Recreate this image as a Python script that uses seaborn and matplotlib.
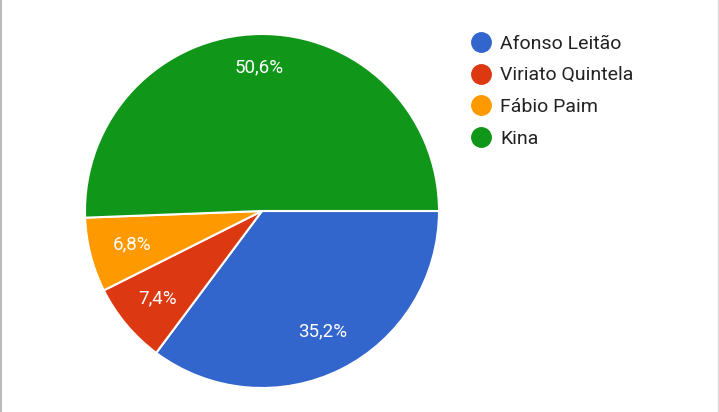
import numpy as np
import seaborn as sns
import matplotlib.pyplot as plt
from matplotlib.lines import Line2D

names = ['Afonso Leitão', 'Viriato Quintela', 'Fábio Paim', 'Kina']
shares = [35.2, 7.4, 6.8, 50.6]

colors = sns.color_palette(['#3366cc', '#dc3912', '#ff9900', '#109618'])
label_dist = [0.76, 0.77, 0.76, 0.81]

sns.set_theme(style='white')
plt.rcParams['font.family'] = ['Roboto', 'DejaVu Sans']

fig = plt.figure(figsize=(7.19, 4.12), dpi=100)
ax = fig.add_axes([85 / 719, 24 / 412, 354 / 719, 354 / 412])

wedges, texts, autotexts = ax.pie(
    shares, colors=colors, startangle=0, counterclock=False,
    autopct=lambda v: '{:.1f}%'.format(v).replace('.', ','),
    wedgeprops={'edgecolor': 'white', 'linewidth': 1.5},
    textprops={'color': 'white', 'fontsize': 13.5})

# move the percent labels like the google chart does
for w, t, d in zip(wedges, autotexts, label_dist):
    mid = np.deg2rad((w.theta1 + w.theta2) / 2)
    t.set_position((d * np.cos(mid), d * np.sin(mid)))
    t.set_ha('center')
    t.set_va('center')

ax.set_xlim(-1, 1)
ax.set_ylim(-1, 1)
ax.set_aspect('equal')
ax.axis('off')

handles = [Line2D([0], [0], marker='o', linestyle='', markersize=14,
                  markerfacecolor=c, markeredgecolor=c) for c in colors]
fig.legend(handles, names, loc='upper left', bbox_to_anchor=(464 / 719, 1 - 25 / 412),
           frameon=False, fontsize=14, labelspacing=0.70, handlelength=0.8,
           handletextpad=0.55, borderpad=0, labelcolor='#222222')

# thin grey edges of the screenshot
fig.add_artist(Line2D([1 / 719, 1 / 719], [0, 1], color='#bbbbbb', linewidth=1.5))
fig.add_artist(Line2D([718 / 719, 718 / 719], [0, 1], color='#dddddd', linewidth=1.0))

fig.savefig('out.png', dpi=100, facecolor='white')
